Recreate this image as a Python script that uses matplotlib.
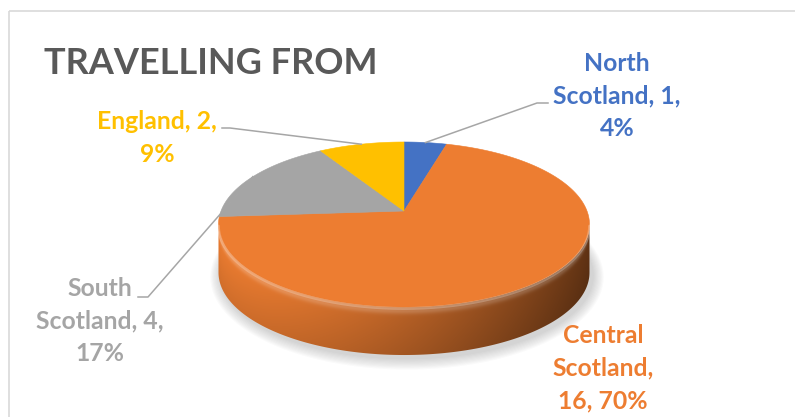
import numpy as np
import matplotlib.pyplot as plt
from matplotlib.colors import to_rgb
from matplotlib.patches import Polygon, Rectangle

# data
names = ['North Scotland', 'Central Scotland', 'South Scotland', 'England']
counts = [1, 16, 4, 2]
colors = ['#4472C4', '#ED7D31', '#A5A5A5', '#FFC000']
label_fmt = ['North\nScotland, {n},\n{p}%',
             'Central\nScotland,\n{n}, {p}%',
             'South\nScotland, {n},\n{p}%',
             'England, {n},\n{p}%']
title = 'TRAVELLING FROM'

# layout, in pixels of the 795x417 picture
cx, cy = 404, 211        # pie apex
rx, ry = 183, 80.3       # radii of the top face
persp = 6.11             # perspective distance (radius units)
depth = 48               # thickness of the pie
label_pos = [(617, 96), (603, 368), (100, 321), (157, 138)]
leader_elbow = [(537, 103), None, (148, 297), (230, 128)]
leader_end = [(548, 103), None, (138, 297), (222, 128)]

FONT = 'Lato'


def rim(theta):
    # theta in degrees, clockwise from 12 o'clock
    t = np.radians(theta)
    u, w = np.sin(t), np.cos(t)
    s = persp / (persp + w)
    return cx + rx * u * s, cy - ry * w * s


fig = plt.figure(figsize=(7.95, 4.17), dpi=100)
ax = fig.add_axes([0, 0, 1, 1])
ax.set_xlim(0, 795)
ax.set_ylim(417, 0)
ax.axis('off')

ax.add_patch(Rectangle((9, 11), 800, 420, fill=False, edgecolor='#D9D9D9', lw=1.2, zorder=0))

total = sum(counts)
fracs = np.array(counts) / total
edges = np.concatenate([[0], np.cumsum(fracs) * 360])

# silhouette extremes of the top face
grid = np.linspace(0, 360, 3601)
gx, gy = rim(grid)
th_r = grid[np.argmax(gx)]
th_l = grid[np.argmin(gx)]
x_l, x_r = gx.min(), gx.max()

# soft shadow under the pie
bt = np.linspace(0, 360, 361)
bx, by = rim(bt)
for k in range(1, 11):
    sx = cx + (bx - cx) * (1 + 0.006 * k) + 3
    sy = (cy + depth) + (by - cy) * (1 + 0.012 * k) + 3
    ax.add_patch(Polygon(np.column_stack([sx, sy]), closed=True, facecolor='#7F7F7F',
                         edgecolor='none', alpha=0.035, zorder=1))

# side of the pie, shaded per wedge
x0, x1, y0, y1 = 200, 610, 200, 370
X, Y = np.meshgrid(np.linspace(x0, x1, 820), np.linspace(y0, y1, 340))
front = np.linspace(th_r, th_l, 800)
fx_, fy_ = rim(front)
order = np.argsort(fx_)
ytop = np.interp(X, fx_[order], fy_[order])
fxn = np.clip((X - x_l) / (x_r - x_l), 0, 1)
tn = np.clip((Y - ytop) / depth, 0, 1)
shade = (1.0 - 0.58 * fxn ** 1.4) * (1.0 - 0.12 * tn)
bevel = np.exp(-((tn - 0.08) / 0.07) ** 2) * 0.18

for a0, a1, c in zip(edges[:-1], edges[1:], colors):
    lo, hi = max(a0, th_r), min(a1, th_l)
    if hi <= lo:
        continue
    arc = np.linspace(lo, hi, 200)
    tx, ty = rim(arc)
    pts = np.vstack([np.column_stack([tx, ty]),
                     np.column_stack([tx[::-1], ty[::-1] + depth])])
    poly = Polygon(pts, closed=True, facecolor='none', edgecolor='none')
    ax.add_patch(poly)
    rgb = np.array(to_rgb(c))
    img = rgb[None, None, :] * shade[..., None]
    img = img + (1 - img) * bevel[..., None]
    im = ax.imshow(np.clip(img, 0, 1), extent=(x0, x1, y1, y0), origin='upper',
                   interpolation='bilinear', zorder=2, aspect='auto')
    im.set_clip_path(poly)

ax.set_xlim(0, 795)
ax.set_ylim(417, 0)

# top face
for a0, a1, c in zip(edges[:-1], edges[1:], colors):
    arc = np.linspace(a0, a1, max(int((a1 - a0) * 2), 10))
    tx, ty = rim(arc)
    pts = np.vstack([[cx, cy], np.column_stack([tx, ty])])
    ax.add_patch(Polygon(pts, closed=True, facecolor=c, edgecolor=c, lw=0.4, zorder=3))

# light rim along the front edge of the top face
fr = np.linspace(th_r, th_l, 300)
rxs, rys = rim(fr)
ax.plot(rxs, rys + 1.5, color='white', alpha=0.25, lw=2, zorder=4, solid_capstyle='round')

# labels and leader lines
for i, (n, f) in enumerate(zip(counts, fracs)):
    txt = label_fmt[i].format(n=n, p=int(round(f * 100)))
    lx, ly = label_pos[i]
    ax.text(lx, ly, txt, color=colors[i], fontsize=17.8, fontweight='bold', family=FONT,
            ha='center', va='center', multialignment='center', linespacing=1.5, zorder=6)
    if leader_elbow[i] is not None:
        mid = (edges[i] + edges[i + 1]) / 2
        sx, sy = rim(mid)
        ex, ey = leader_elbow[i]
        qx, qy = leader_end[i]
        ax.plot([sx, ex, qx], [sy, ey, qy], color='#A6A6A6', lw=1.1, zorder=5)

ax.text(44, 74, title, color='#595959', fontsize=26, fontweight='bold', family=FONT,
        ha='left', va='baseline', zorder=6)

fig.savefig('out.png', dpi=100)
